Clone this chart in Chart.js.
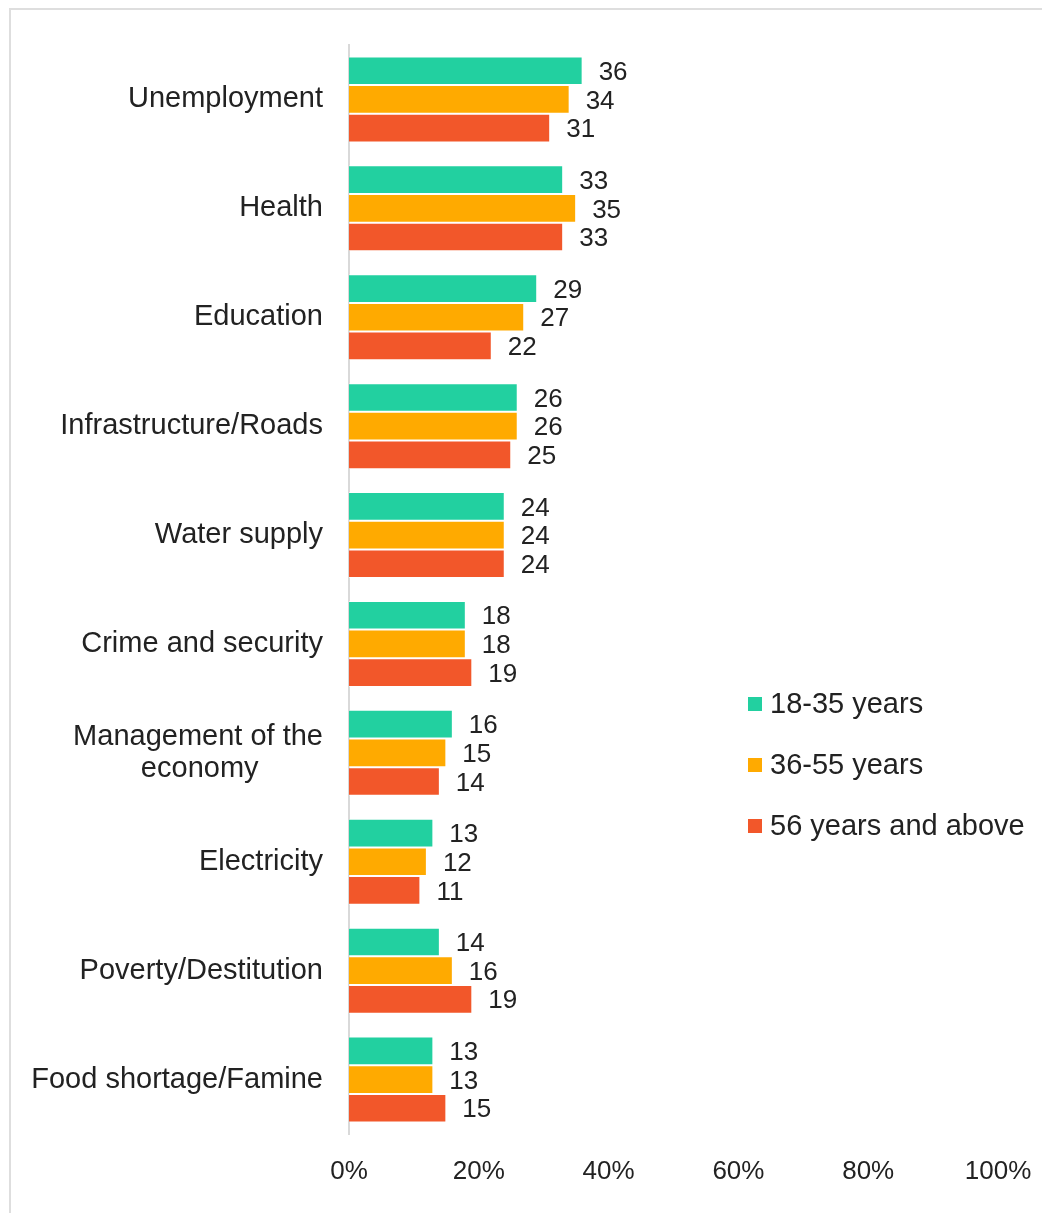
<!DOCTYPE html>
<html>
<head>
<meta charset="utf-8">
<script src="https://cdn.jsdelivr.net/npm/chart.js@4"></script>
<style>
  html, body { margin: 0; padding: 0; background: #fff; overflow: hidden; }
  #frame { position: absolute; left: 9px; top: 8px; width: 1100px; height: 1300px; border: 2px solid #dedede; }
  #chart { position: absolute; left: 0; top: 0; }
</style>
</head>
<body>
<div id="frame"></div>
<canvas id="chart" width="1042" height="1213"></canvas>
<script>
const categories = [
  "Unemployment",
  "Health",
  "Education",
  "Infrastructure/Roads",
  "Water supply",
  "Crime and security",
  ["Management of the", "economy"],
  "Electricity",
  "Poverty/Destitution",
  "Food shortage/Famine"
];
const seriesNames = ["18-35 years", "36-55 years", "56 years and above"];
const young = [36, 33, 29, 26, 24, 18, 16, 13, 14, 13];
const middle = [34, 35, 27, 26, 24, 18, 15, 12, 16, 13];
const older = [31, 33, 22, 25, 24, 19, 14, 11, 19, 15];
const xTicks = [0, 20, 40, 60, 80, 100];
const colors = ["#22d0a0", "#ffaa00", "#f2572a"];

const FONT = "'Liberation Sans', Arial, sans-serif";
const TEXT = "#222222";

// pad the shorter lines of a multi-line label so they sit centred (labels are right aligned)
function centerLines(label) {
  if (!Array.isArray(label)) return label;
  const c = document.createElement("canvas").getContext("2d");
  c.font = "29px " + FONT;
  const widths = label.map(l => c.measureText(l).width);
  const maxW = Math.max(...widths);
  const sp = c.measureText(" ").width;
  return label.map((l, i) => l + " ".repeat(Math.round((maxW - widths[i]) / 2 / sp)));
}

// value next to each bar
const barValueLabels = {
  id: "barValueLabels",
  afterDatasetsDraw(chart) {
    const ctx = chart.ctx;
    ctx.save();
    ctx.font = "26px " + FONT;
    ctx.fillStyle = TEXT;
    ctx.textAlign = "left";
    ctx.textBaseline = "middle";
    chart.data.datasets.forEach((ds, i) => {
      chart.getDatasetMeta(i).data.forEach((bar, j) => {
        ctx.fillText(ds.data[j], bar.x + 16, bar.y + 2);
      });
    });
    ctx.restore();
  }
};

// legend sitting over the right part of the plot
const sideLegend = {
  id: "sideLegend",
  afterDraw(chart) {
    const ctx = chart.ctx;
    ctx.save();
    ctx.font = "29px " + FONT;
    ctx.textAlign = "left";
    ctx.textBaseline = "middle";
    chart.data.datasets.forEach((ds, i) => {
      const y = 704 + i * 61;
      ctx.fillStyle = ds.backgroundColor;
      ctx.fillRect(748, y - 7, 14, 14);
      ctx.fillStyle = TEXT;
      ctx.fillText(ds.label, 770, y + 1);
    });
    ctx.restore();
  }
};

new Chart(document.getElementById("chart"), {
  type: "bar",
  data: {
    labels: categories,
    datasets: [young, middle, older].map((d, i) => ({
      label: seriesNames[i],
      data: d,
      backgroundColor: colors[i],
      borderColor: "rgba(255,255,255,0.6)",
      borderWidth: 1,
      categoryPercentage: 0.79,
      barPercentage: 1.0
    }))
  },
  options: {
    indexAxis: "y",
    responsive: false,
    animation: false,
    layout: { padding: { top: 45, left: 10, right: 44, bottom: 0 } },
    plugins: {
      legend: { display: false },
      tooltip: { enabled: false }
    },
    scales: {
      x: {
        min: 0,
        max: 100,
        afterFit(scale) {
          scale.height = 79;
          scale.paddingLeft = 0;
          scale.paddingRight = 0;
        },
        afterBuildTicks(scale) { scale.ticks = xTicks.map(v => ({ value: v })); },
        grid: { display: false, drawTicks: false },
        border: { display: false },
        ticks: {
          padding: 22,
          color: TEXT,
          font: { family: FONT, size: 26 },
          callback: v => v + "%"
        }
      },
      y: {
        afterFit(scale) {
          scale.width = 339;
          scale.paddingTop = 0;
          scale.paddingBottom = 0;
        },
        grid: { display: false, drawTicks: false },
        border: { display: true, color: "#d9d9d9", width: 2 },
        ticks: {
          padding: 26,
          color: TEXT,
          font: { family: FONT, size: 29, lineHeight: 1.1 },
          callback: (v, i) => centerLines(categories[i])
        }
      }
    }
  },
  plugins: [barValueLabels, sideLegend]
});
</script>
</body>
</html>
